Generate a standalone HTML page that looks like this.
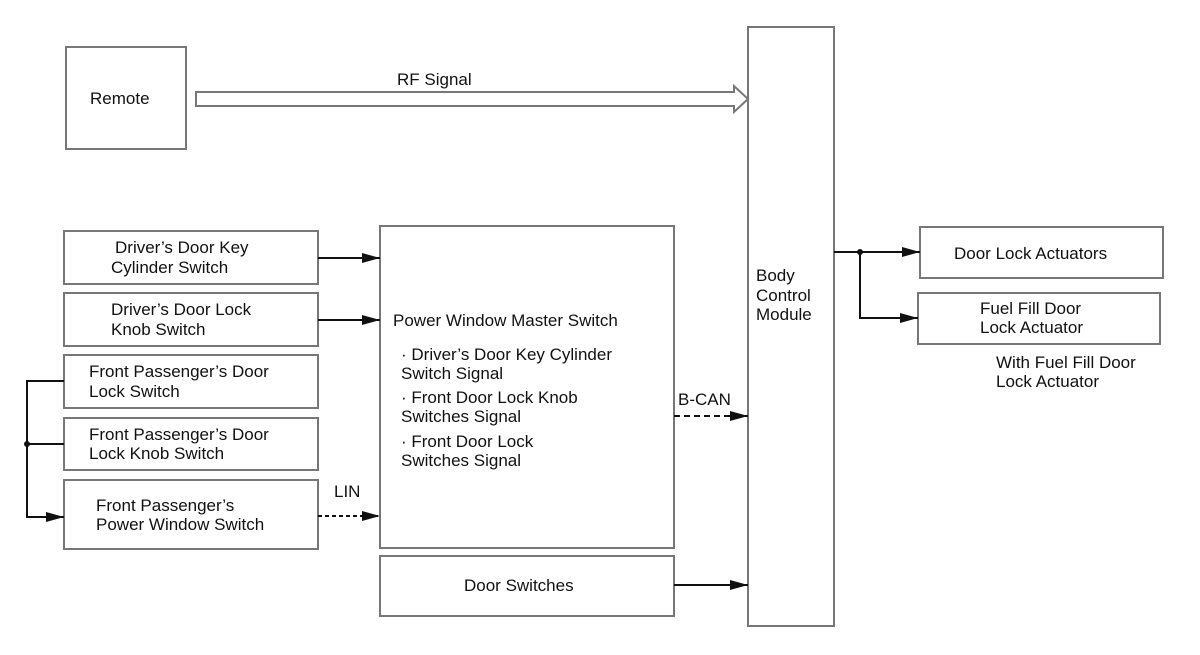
<!DOCTYPE html>
<html><head><meta charset="utf-8"><style>
body{margin:0;background:#fff;}
svg text{font-family:"Liberation Sans",Arial,sans-serif;font-size:17px;fill:#111;}
</style></head><body>
<svg width="1200" height="650" viewBox="0 0 1200 650" xmlns="http://www.w3.org/2000/svg">
<defs>
<marker id="a" markerWidth="18" markerHeight="12" refX="18" refY="6" orient="auto" markerUnits="userSpaceOnUse">
<path d="M0,1 L18,6 L0,11 Z" fill="#111"/></marker>
</defs>
<g fill="none" stroke="#777" stroke-width="2">
<rect x="66" y="47" width="120" height="102"/>
<rect x="748" y="27" width="86" height="599"/>
<rect x="64" y="231" width="254" height="53"/>
<rect x="64" y="293" width="254" height="53"/>
<rect x="64" y="355" width="254" height="53"/>
<rect x="64" y="418" width="254" height="52"/>
<rect x="64" y="480" width="254" height="69"/>
<rect x="380" y="226" width="294" height="322"/>
<rect x="380" y="556" width="294" height="60"/>
<rect x="920" y="227" width="243" height="51"/>
<rect x="918" y="293" width="242" height="51"/>
<path d="M196,92 L734,92 L734,86 L748,99 L734,112 L734,106 L196,106 Z"/>
</g>
<g stroke="#111" stroke-width="2" fill="none">
<line x1="318" y1="258" x2="380" y2="258" marker-end="url(#a)"/>
<line x1="318" y1="320" x2="380" y2="320" marker-end="url(#a)"/>
<line x1="318" y1="516" x2="380" y2="516" stroke-dasharray="4,3" marker-end="url(#a)"/>
<line x1="674" y1="416" x2="748" y2="416" stroke-dasharray="6,4" marker-end="url(#a)"/>
<line x1="674" y1="585" x2="748" y2="585" marker-end="url(#a)"/>
<polyline points="64,381 27,381 27,517 64,517" marker-end="url(#a)"/>
<line x1="27" y1="444" x2="64" y2="444"/>
<line x1="834" y1="252" x2="920" y2="252" marker-end="url(#a)"/>
<polyline points="860,252 860,318 918,318" marker-end="url(#a)"/>
</g>
<circle cx="27" cy="444" r="3" fill="#111"/>
<circle cx="860" cy="252" r="3" fill="#111"/>
<text x="90" y="104">Remote</text>
<text x="397" y="85">RF Signal</text>
<text x="115" y="253">Driver’s Door Key</text>
<text x="111" y="273">Cylinder Switch</text>
<text x="111" y="315">Driver’s Door Lock</text>
<text x="111" y="335">Knob Switch</text>
<text x="89" y="377">Front Passenger’s Door</text>
<text x="89" y="397">Lock Switch</text>
<text x="89" y="440">Front Passenger’s Door</text>
<text x="89" y="459">Lock Knob Switch</text>
<text x="96" y="511">Front Passenger’s</text>
<text x="96" y="530">Power Window Switch</text>
<text x="334" y="497">LIN</text>
<text x="393" y="326">Power Window Master Switch</text>
<text x="401" y="360">· Driver’s Door Key Cylinder</text>
<text x="401" y="379">Switch Signal</text>
<text x="401" y="403">· Front Door Lock Knob</text>
<text x="401" y="422">Switches Signal</text>
<text x="401" y="447">· Front Door Lock</text>
<text x="401" y="466">Switches Signal</text>
<text x="678" y="405">B-CAN</text>
<text x="464" y="591">Door Switches</text>
<text x="756" y="281">Body</text>
<text x="756" y="301">Control</text>
<text x="756" y="320">Module</text>
<text x="954" y="259">Door Lock Actuators</text>
<text x="980" y="314">Fuel Fill Door</text>
<text x="980" y="333">Lock Actuator</text>
<text x="996" y="368">With Fuel Fill Door</text>
<text x="996" y="387">Lock Actuator</text>
</svg>
</body></html>
